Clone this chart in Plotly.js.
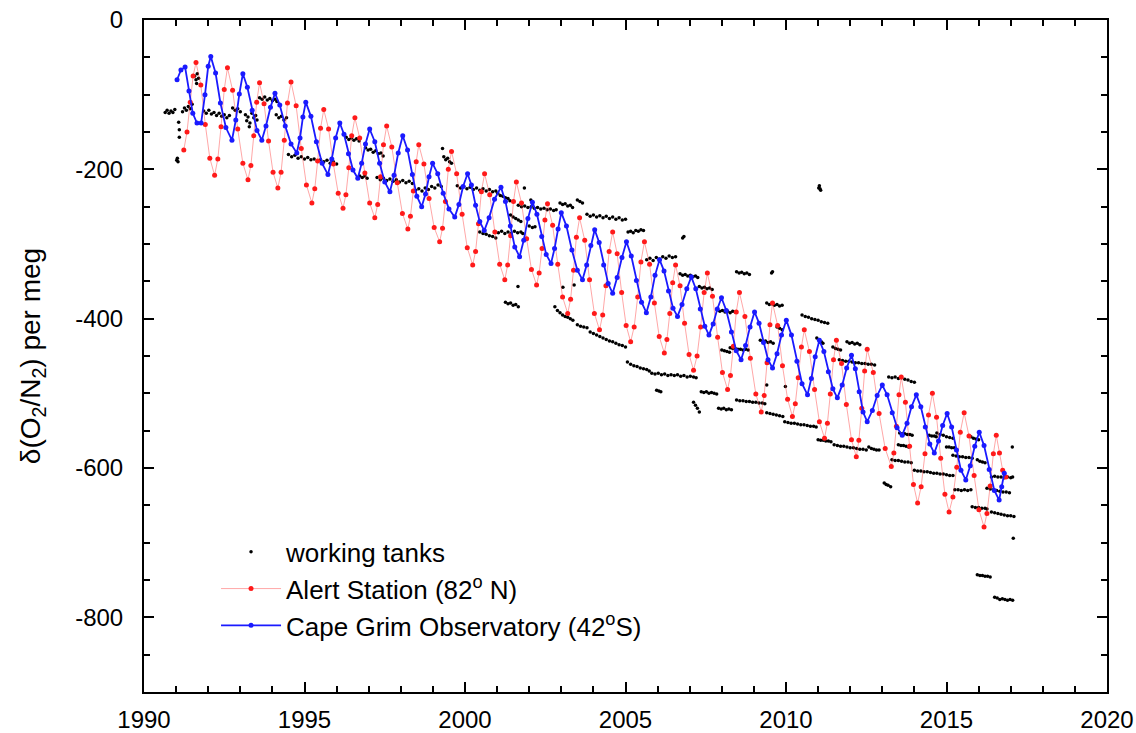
<!DOCTYPE html>
<html>
<head>
<meta charset="utf-8">
<script src="https://cdn.plot.ly/plotly-3.0.1.min.js"></script>
<style>html,body{margin:0;padding:0;background:#fff;}#chart{width:1136px;height:733px;}</style>
</head>
<body>
<div id="chart"></div>
<script>
// ---------- Data ----------
const xTickVals = [1990, 1995, 2000, 2005, 2010, 2015, 2020];
const xTickText = ['1990', '1995', '2000', '2005', '2010', '2015', '2020'];
const yTickVals = [0, -200, -400, -600, -800];
const yTickText = ['0', '-200', '-400', '-600', '-800'];

const seriesNames = ['working tanks', 'Alert Station (82<sup>o</sup> N)', 'Cape Grim Observatory (42<sup>o</sup>S)'];

// Alert Station (82 N), decimal year / per meg
const alertYear = [
  1991.24,1991.34,1991.44,1991.53,1991.62,
  1991.77,1991.91,1992.05,1992.2,1992.3,1992.4,1992.5,1992.6,
  1992.76,1992.92,1993.08,1993.24,1993.33,1993.42,1993.51,1993.6,
  1993.74,1993.88,1994.02,1994.17,1994.27,1994.37,1994.47,1994.58,
  1994.74,1994.9,1995.06,1995.23,1995.32,1995.41,1995.5,1995.6,
  1995.75,1995.9,1996.05,1996.2,1996.29,1996.38,1996.47,1996.57,
  1996.72,1996.88,1997.03,1997.19,1997.28,1997.37,1997.46,1997.56,
  1997.72,1997.89,1998.05,1998.22,1998.3,1998.39,1998.48,1998.56,
  1998.72,1998.88,1999.04,1999.21,1999.3,1999.39,1999.48,1999.58,
  1999.74,1999.91,2000.07,2000.24,2000.33,2000.42,2000.51,2000.61,
  2000.77,2000.93,2001.08,2001.24,2001.33,2001.42,2001.51,2001.6,
  2001.76,2001.92,2002.07,2002.23,2002.31,2002.4,2002.49,2002.57,
  2002.73,2002.89,2003.04,2003.2,2003.29,2003.38,2003.47,2003.57,
  2003.73,2003.88,2004.03,2004.19,2004.29,2004.39,2004.49,2004.6,
  2004.74,2004.88,2005.02,2005.16,2005.27,2005.38,2005.48,2005.59,
  2005.75,2005.9,2006.05,2006.21,2006.29,2006.38,2006.47,2006.56,
  2006.7,2006.84,2006.98,2007.12,2007.23,2007.34,2007.45,2007.55,
  2007.71,2007.87,2008.02,2008.18,2008.27,2008.36,2008.45,2008.55,
  2008.72,2008.89,2009.06,2009.23,2009.32,2009.41,2009.5,2009.58,
  2009.74,2009.89,2010.05,2010.2,2010.29,2010.38,2010.48,2010.57,
  2010.73,2010.89,2011.04,2011.2,2011.29,2011.38,2011.48,2011.57,
  2011.73,2011.88,2012.04,2012.19,2012.27,2012.36,2012.45,2012.53,
  2012.72,2012.9,2013.09,2013.28,2013.36,2013.44,2013.52,2013.59,
  2013.72,2013.85,2013.97,2014.1,2014.21,2014.33,2014.44,2014.56,
  2014.69,2014.82,2014.95,2015.08,2015.2,2015.32,2015.43,2015.55,
  2015.7,2015.86,2016.01,2016.17,2016.26,2016.36,2016.46,2016.55,
  2016.65,2016.75,2016.85
];
const alertVal = [
  -174,-150,-110,-75,-57,
  -87,-140,-185,-208,-186,-143,-93,-64,
  -94,-146,-192,-214,-195,-155,-110,-84,
  -112,-162,-204,-225,-204,-161,-111,-83,
  -115,-172,-221,-245,-226,-189,-145,-120,
  -146,-193,-232,-252,-234,-198,-155,-131,
  -158,-205,-245,-265,-247,-210,-167,-142,
  -170,-218,-259,-280,-263,-229,-190,-167,
  -193,-239,-278,-297,-279,-243,-200,-176,
  -206,-260,-305,-328,-310,-273,-230,-206,
  -234,-284,-327,-348,-328,-289,-243,-217,
  -245,-293,-334,-355,-339,-306,-268,-246,
  -275,-327,-371,-393,-374,-335,-291,-265,
  -295,-348,-393,-415,-395,-356,-310,-284,
  -313,-365,-409,-431,-411,-371,-324,-297,
  -327,-379,-424,-446,-428,-393,-352,-328,
  -356,-406,-448,-469,-450,-411,-365,-339,
  -370,-425,-472,-495,-476,-437,-391,-365,
  -397,-453,-501,-525,-503,-459,-408,-379,
  -409,-463,-508,-531,-514,-479,-438,-415,
  -444,-495,-538,-560,-540,-501,-455,-429,
  -460,-515,-562,-585,-563,-520,-470,-441,
  -472,-527,-574,-598,-580,-544,-502,-478,
  -512,-571,-622,-647,-625,-581,-529,-500,
  -532,-587,-635,-659,-639,-599,-552,-526,
  -557,-610,-656,-679,-661,-624,-581,-556,
  -580,-603,-612
];

// Cape Grim Observatory (42 S)
const capeYear = [
  1991.03,1991.15,1991.28,1991.4,1991.52,1991.65,1991.78,1991.9,1992.0,1992.08,
  1992.23,1992.38,1992.55,1992.74,1992.86,1992.97,1993.08,
  1993.22,1993.37,1993.52,1993.67,1993.8,1993.94,1994.08,
  1994.23,1994.4,1994.58,1994.76,1994.86,1994.95,1995.04,
  1995.2,1995.37,1995.55,1995.73,1995.85,1995.97,1996.1,
  1996.23,1996.37,1996.51,1996.66,1996.78,1996.9,1997.03,
  1997.19,1997.34,1997.5,1997.66,1997.79,1997.92,1998.06,
  1998.21,1998.36,1998.5,1998.65,1998.77,1998.88,1998.99,
  1999.15,1999.32,1999.5,1999.68,1999.81,1999.94,2000.08,
  2000.2,2000.33,2000.46,2000.6,2000.75,2000.92,2001.12,
  2001.26,2001.41,2001.55,2001.7,2001.83,2001.96,2002.1,
  2002.24,2002.39,2002.53,2002.68,2002.79,2002.9,2003.0,
  2003.16,2003.33,2003.5,2003.66,2003.79,2003.92,2004.04,
  2004.18,2004.32,2004.46,2004.6,2004.74,2004.89,2005.03,
  2005.18,2005.34,2005.5,2005.65,2005.79,2005.92,2006.06,
  2006.2,2006.34,2006.48,2006.62,2006.76,2006.91,2007.05,
  2007.19,2007.33,2007.47,2007.6,2007.73,2007.86,2007.99,
  2008.14,2008.3,2008.45,2008.6,2008.74,2008.88,2009.02,
  2009.16,2009.3,2009.44,2009.58,2009.72,2009.86,2010.01,
  2010.17,2010.34,2010.5,2010.67,2010.79,2010.91,2011.04,
  2011.18,2011.32,2011.46,2011.6,2011.75,2011.89,2012.04,
  2012.16,2012.28,2012.4,2012.53,2012.69,2012.84,2013.0,
  2013.15,2013.31,2013.46,2013.62,2013.77,2013.91,2014.06,
  2014.2,2014.34,2014.48,2014.62,2014.75,2014.88,2015.02,
  2015.16,2015.31,2015.45,2015.6,2015.74,2015.88,2016.02,
  2016.17,2016.33,2016.49,2016.64,2016.72,2016.8
];
const capeVal = [
  -80,-67,-63,-95,-125,-138,-138,-100,-62,-49,
  -71,-111,-144,-161,-134,-99,-72,
  -90,-121,-148,-161,-142,-117,-98,
  -114,-142,-166,-178,-158,-130,-110,
  -129,-163,-192,-207,-186,-158,-138,
  -153,-179,-201,-212,-192,-166,-146,
  -163,-192,-217,-230,-208,-178,-155,
  -174,-207,-236,-250,-233,-210,-192,
  -206,-232,-253,-264,-247,-223,-206,
  -221,-248,-270,-282,-265,-240,-224,
  -243,-276,-304,-317,-295,-266,-244,
  -260,-290,-314,-326,-306,-280,-258,
  -276,-308,-335,-348,-328,-302,-281,
  -298,-328,-353,-366,-345,-318,-297,
  -316,-349,-378,-392,-371,-342,-321,
  -336,-363,-386,-397,-381,-360,-344,
  -360,-387,-410,-422,-407,-387,-372,
  -389,-418,-443,-455,-436,-411,-391,
  -406,-432,-455,-466,-447,-422,-402,
  -422,-457,-487,-502,-480,-451,-429,
  -444,-471,-494,-506,-489,-466,-449,
  -467,-498,-525,-538,-523,-503,-489,
  -502,-526,-546,-556,-540,-518,-502,
  -518,-545,-568,-580,-564,-543,-527,
  -545,-576,-603,-616,-597,-571,-552,
  -570,-602,-630,-643,-625,-607
];

// Working tanks (clusters of calibration-tank measurements)
const tankYear = [
  1990.66,1990.72,1990.78,1990.84,1990.9,1990.96,
  1991.08,1991.1,1991.1,1991.04,1991.06,1991.02,
  1991.2,1991.26,1991.32,1991.38,1991.44,1991.5,
  1991.58,1991.62,1991.66,1991.7,1991.64,
  1991.86,1991.94,1992.02,1992.1,1992.18,1992.26,1992.34,1992.42,1992.5,1992.58,1992.66,
  1992.76,1992.84,1992.92,1993.0,
  1993.16,1993.2,1993.24,1993.28,1993.3,
  1993.36,1993.42,1993.48,1993.52,
  1993.6,1993.68,1993.76,1993.84,1993.92,1994.0,1994.08,1994.14,
  1994.12,1994.2,1994.28,1994.36,1994.44,
  1994.5,1994.6,1994.7,1994.8,1994.9,1995.0,1995.1,1995.2,1995.3,1995.4,1995.5,1995.6,1995.7,1995.8,1995.9,1996.0,
  1996.3,1996.38,1996.46,1996.54,1996.62,1996.7,
  1996.9,1996.98,1997.06,1997.14,1997.22,1997.3,1997.38,1997.45,
  1996.72,1996.8,1996.88,1996.95,
  1997.26,1997.36,1997.46,1997.56,1997.66,1997.76,1997.86,1997.96,1998.06,1998.16,1998.26,1998.36,
  1998.46,1998.56,1998.66,1998.76,1998.86,1998.96,1999.06,1999.16,1999.26,
  1999.3,1999.34,1999.4,1999.46,1999.52,1999.58,
  1999.76,1999.86,1999.96,2000.06,2000.16,2000.26,2000.36,2000.46,2000.56,2000.66,2000.76,2000.86,2000.96,
  2001.02,2001.1,2001.18,2001.26,2001.34,2001.4,
  2000.46,2000.56,2000.66,2000.76,2000.86,2000.96,
  2001.04,2001.14,2001.24,2001.34,2001.44,2001.54,2001.64,2001.74,2001.8,
  2001.42,2001.5,2001.58,2001.66,2001.74,
  2001.66,2001.76,2001.86,2001.96,2002.06,2002.16,2002.26,2002.36,2002.46,2002.56,2002.66,2002.76,2002.84,
  2001.26,2001.34,2001.42,2001.5,2001.58,2001.66,
  2001.65,2002.0,2002.1,2002.18,2001.85,2002.05,
  2002.96,2003.04,2003.12,2003.2,2003.28,2003.35,
  2003.5,2003.58,2003.66,
  2003.8,2003.9,2004.0,2004.1,2004.2,2004.3,2004.4,2004.5,2004.6,2004.7,2004.8,2004.9,2005.0,
  2005.08,2005.16,2005.24,2005.32,2005.4,2005.48,2005.56,
  2006.78,2006.82,
  2005.66,2005.76,2005.86,2005.96,2006.06,2006.16,2006.26,2006.36,2006.46,2006.56,
  2006.7,2006.78,2006.86,2006.94,2007.02,2007.1,2007.18,2007.25,
  2007.3,2007.38,2007.46,2007.54,2007.62,2007.7,
  2007.86,2007.94,2008.02,2008.1,2008.18,2008.26,2008.34,2008.42,
  2002.8,2002.88,2002.96,2003.04,2003.12,2003.2,2003.28,2003.36,
  2003.5,2003.6,2003.7,2003.8,2003.9,2004.0,2004.1,2004.2,2004.3,2004.4,2004.5,2004.6,2004.7,2004.8,2004.9,2005.0,
  2005.06,2005.16,2005.26,2005.36,2005.46,2005.56,2005.66,2005.74,
  2005.82,2005.92,2006.02,2006.12,2006.22,2006.32,2006.42,2006.52,2006.62,2006.72,2006.82,2006.92,2007.02,2007.12,2007.2,
  2005.97,2006.04,2006.1,
  2007.36,2007.44,2007.52,2007.6,2007.68,2007.76,2007.84,
  2007.12,2007.18,2007.24,2007.3,
  2007.9,2007.98,2008.06,2008.14,2008.22,2008.3,
  2008.0,2008.08,2008.16,2008.24,
  2003.4,2003.05,
  2008.46,2008.54,2008.62,2008.7,2008.78,2008.86,
  2009.55,2009.58,
  2009.4,2009.48,2009.56,2009.64,2009.72,2009.8,2009.88,
  2010.5,2010.6,2010.7,2010.8,2010.9,2011.0,2011.1,2011.2,2011.3,
  2009.2,2009.28,2009.36,2009.44,2009.52,2009.6,
  2009.72,2009.8,2009.88,
  2010.96,2011.04,2011.1,2011.15,
  2011.46,2011.54,2011.62,2011.7,
  2011.9,2011.98,2012.06,2012.14,2012.22,2012.3,
  2011.66,2011.76,2011.86,2011.96,2012.06,2012.16,2012.26,2012.36,2012.46,2012.56,2012.66,2012.76,
  2013.2,2013.3,2013.4,2013.5,2013.6,2013.7,2013.8,2013.9,2014.0,
  2008.26,2008.34,2008.42,2008.5,2008.58,2008.66,2008.74,2008.82,
  2008.46,2008.56,2008.66,2008.76,2008.86,2008.96,2009.06,2009.16,2009.26,2009.34,
  2009.4,2009.5,2009.6,2009.7,2009.8,2009.9,
  2009.96,2010.06,2010.16,2010.26,2010.36,2010.46,2010.56,2010.66,2010.76,2010.86,2010.94,
  2011.0,2011.08,2011.16,2011.24,2011.32,2011.4,
  2011.5,2011.6,2011.7,2011.8,2011.9,2012.0,2012.1,2012.2,2012.3,2012.4,2012.5,
  2012.58,2012.66,2012.74,2012.82,2012.9,
  2013.3,2013.4,2013.5,2013.6,2013.7,2013.8,2013.9,
  2014.0,2014.1,2014.2,2014.3,2014.4,2014.5,2014.6,2014.7,2014.8,2014.9,2015.0,2015.1,2015.2,
  2013.06,2013.12,2013.18,2013.26,
  2009.4,2009.98,
  2013.54,2013.62,2013.7,2013.78,2013.86,2013.93,
  2013.5,2013.58,2013.66,2013.74,2013.82,
  2014.46,2014.54,2014.62,2014.68,
  2014.7,2014.8,2014.9,2015.0,2015.1,2015.2,
  2015.0,2015.08,2015.16,2015.24,
  2015.2,2015.3,2015.4,2015.5,2015.6,2015.7,2015.8,
  2015.26,2015.36,2015.46,2015.56,2015.66,2015.76,
  2015.8,2015.9,2016.0,2016.1,2016.2,2016.26,
  2015.76,2015.84,2015.92,2016.0,
  2015.96,2016.04,2016.12,2016.2,
  2016.4,2016.5,2016.6,2016.7,2016.8,2016.9,2017.0,2017.06,
  2016.4,2016.5,2016.6,2016.7,2016.8,2016.9,2017.0,2017.1,
  2017.05,2017.08,
  2015.96,2016.04,2016.12,2016.2,2016.28,2016.36,
  2016.5,2016.58,2016.66,2016.74,2016.82,2016.9,2016.98,2017.06,
  2016.26,2016.36,2016.46,2016.56,2016.66,2016.76,2016.86,2016.96,
  2011.04,2011.06,2011.08,2011.02
];
const tankVal = [
  -124,-121,-125,-122,-124,-120,
  -137,-147,-157,-185,-190,-188,
  -123,-118,-121,-116,-119,-113,
  -75,-80,-72,-78,-85,
  -122,-125,-121,-126,-124,-128,-125,-129,-127,-131,-128,
  -118,-121,-119,-123,
  -127,-135,-130,-143,-138,
  -125,-131,-128,-134,
  -104,-106,-103,-107,-105,-108,-106,-109,
  -127,-131,-129,-134,-131,
  -180,-183,-181,-185,-183,-186,-184,-187,-186,-189,-187,-190,-188,-192,-190,-193,
  -157,-160,-158,-161,-159,-162,
  -171,-174,-173,-177,-175,-179,-178,-182,
  -209,-211,-209,-212,
  -211,-214,-212,-215,-213,-216,-214,-217,-215,-218,-216,-219,
  -228,-226,-229,-225,-227,-223,-225,-221,-223,
  -172,-183,-187,-185,-190,-192,
  -222,-225,-223,-226,-224,-227,-225,-228,-226,-229,-227,-230,-229,
  -232,-235,-236,-238,-239,-242,
  -284,-286,-287,-289,-290,-292,
  -285,-283,-286,-284,-286,-283,-285,-284,-286,
  -261,-264,-266,-268,-270,
  -248,-250,-249,-251,-250,-252,-251,-253,-252,-254,-253,-255,-254,
  -378,-380,-379,-382,-381,-384,
  -357,-276,-278,-277,-225,-241,
  -245,-247,-246,-249,-248,-251,
  -241,-243,-245,
  -260,-263,-261,-264,-262,-265,-263,-266,-264,-267,-265,-268,-267,
  -284,-283,-285,-282,-283,-281,-282,
  -292,-290,
  -321,-319,-322,-318,-320,-317,-319,-316,-318,-317,
  -340,-342,-341,-343,-342,-344,-343,-345,
  -357,-359,-358,-360,-359,-361,
  -388,-390,-389,-391,-390,-392,-390,-391,
  -384,-389,-392,-395,-397,-398,-400,-402,
  -408,-410,-411,-412,-418,-420,-422,-424,-426,-428,-430,-431,-433,-435,-436,-438,
  -458,-461,-463,-464,-466,-467,-468,-470,
  -473,-474,-473,-475,-474,-476,-475,-476,-475,-477,-476,-478,-477,-478,-479,
  -496,-497,-498,
  -498,-499,-498,-500,-499,-500,-501,
  -512,-516,-520,-525,
  -520,-521,-520,-522,-521,-522,
  -442,-443,-444,-445,
  -355,-358,
  -337,-339,-338,-340,-339,-341,
  -339,-337,
  -379,-381,-380,-382,-381,-383,-382,
  -395,-397,-398,-400,-401,-402,-404,-405,-406,
  -429,-431,-430,-432,-431,-433,
  -411,-413,-415,
  -426,-429,-431,-433,
  -438,-440,-441,-442,
  -431,-433,-432,-434,-433,-435,
  -455,-456,-457,-457,-458,-459,-459,-460,-460,-461,-461,-462,
  -478,-479,-478,-480,-479,-481,-482,-484,-485,
  -439,-440,-440,-441,-441,-442,-441,-442,
  -509,-510,-510,-511,-511,-512,-512,-513,-513,-514,
  -526,-527,-528,-529,-530,-531,
  -538,-539,-540,-540,-541,-542,-542,-543,-544,-544,-545,
  -562,-563,-563,-564,-564,-565,
  -569,-570,-571,-571,-572,-573,-573,-574,-575,-575,-576,
  -572,-574,-575,-576,-576,
  -589,-590,-590,-591,-592,-592,-593,
  -603,-604,-604,-605,-605,-606,-607,-607,-608,-608,-609,-610,-610,
  -620,-622,-623,-625,
  -489,-491,
  -553,-554,-554,-555,-555,-556,
  -569,-570,-570,-571,-572,
  -556,-557,-557,-558,
  -553,-555,-556,-558,-559,-560,
  -572,-572,-573,-573,
  -583,-584,-585,-585,-586,-586,-587,
  -629,-629,-630,-629,-630,-629,
  -652,-653,-653,-654,-654,-655,
  -558,-560,-561,-562,
  -589,-591,-592,-593,
  -612,-611,-612,-612,-613,-612,-613,-612,
  -659,-660,-661,-662,-663,-664,-664,-665,
  -572,-694,
  -743,-744,-744,-745,-745,-746,
  -773,-774,-776,-775,-776,-777,-776,-777,
  -627,-628,-629,-630,-631,-632,-632,-633,
  -222,-226,-228,-225
];

// ---------- Traces ----------
const traces = [
  {
    x: tankYear, y: tankVal, name: seriesNames[0], type: 'scatter', mode: 'markers',
    marker: {color: '#000000', size: 3.5}
  },
  {
    x: alertYear, y: alertVal, name: seriesNames[1], type: 'scatter', mode: 'lines+markers',
    line: {color: 'rgba(255,60,60,0.45)', width: 1},
    marker: {color: '#ff1a1a', size: 5}
  },
  {
    x: capeYear, y: capeVal, name: seriesNames[2], type: 'scatter', mode: 'lines+markers',
    line: {color: '#1a1aff', width: 1.8},
    marker: {color: '#1a1aff', size: 5}
  }
];

const axisCommon = {
  showline: true, linewidth: 2, linecolor: '#000', mirror: 'allticks',
  ticks: 'inside', ticklen: 10, tickwidth: 2, tickcolor: '#000',
  showgrid: false, zeroline: false, automargin: false,
  tickfont: {size: 24, color: '#000'}
};

const layout = {
  width: 1136, height: 733,
  margin: {l: 144, r: 29, t: 20, b: 41},
  paper_bgcolor: '#fff', plot_bgcolor: '#fff',
  font: {family: '"Liberation Sans", Arial, sans-serif', size: 24, color: '#000'},
  showlegend: true,
  legend: {
    x: 0.0748, y: 0.2435, xanchor: 'left', yanchor: 'top',
    bgcolor: 'rgba(0,0,0,0)', borderwidth: 0, itemwidth: 60,
    font: {size: 26, color: '#000'}
  },
  xaxis: Object.assign({}, axisCommon, {
    range: [1990, 2020], tickmode: 'array', tickvals: xTickVals, ticktext: xTickText,
    ticklabelstandoff: 5,
    minor: {tickmode: 'linear', tick0: 1990, dtick: 1, ticks: 'inside', ticklen: 6, tickwidth: 2, tickcolor: '#000', showgrid: false}
  }),
  yaxis: Object.assign({}, axisCommon, {
    range: [-900, 0], tickmode: 'array', tickvals: yTickVals, ticktext: yTickText,
    ticklabelstandoff: 14,
    minor: {tickmode: 'linear', tick0: 0, dtick: 50, ticks: 'inside', ticklen: 6, tickwidth: 2, tickcolor: '#000', showgrid: false},
    title: {text: 'δ(O<sub>2</sub>/N<sub>2</sub>) per meg', font: {size: 28, color: '#000'}, standoff: 26}
  })
};

Plotly.newPlot('chart', traces, layout, {displayModeBar: false, staticPlot: true});
</script>
</body>
</html>
